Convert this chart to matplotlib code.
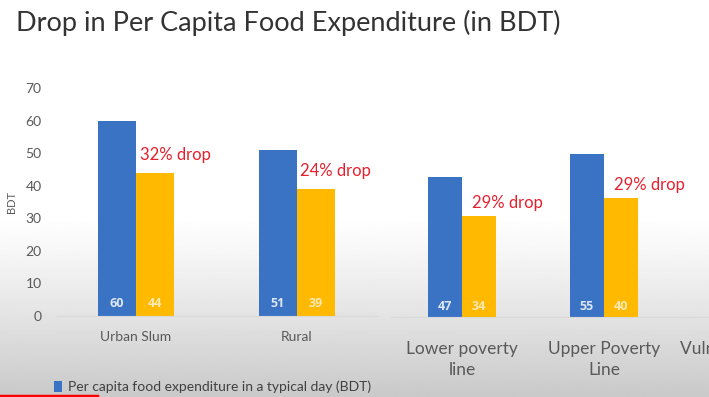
import matplotlib
matplotlib.use("Agg")
import matplotlib.pyplot as plt
import numpy as np
from matplotlib.lines import Line2D

# data
left_cats = ["Urban Slum", "Rural"]
left_before = [60, 51]
left_after = [44, 39]
left_drop = ["32% drop", "24% drop"]

right_cats = ["Lower poverty\nline", "Upper Poverty\nLine", "Vulnerable group"]
right_before = [47, 55]
right_after = [34, 40]
right_drop = ["29% drop", "29% drop"]

yticks = [0, 10, 20, 30, 40, 50, 60, 70]
legend_label = "Per capita food expenditure in a typical day (BDT)"
title = "Drop in Per Capita Food Expenditure (in BDT)"

BLUE = "#3a72c4"
GOLD = "#ffb900"
RED = "#e8202e"
GREY = "#595959"

plt.rcParams['font.family'] = ['Lato', 'DejaVu Sans']

W, H = 709, 397
fig = plt.figure(figsize=(W / 100, H / 100), dpi=100)

def px(x0, y_base, w, h):
    # pixel box (left, baseline y from top, width, height) -> figure fraction
    return [x0 / W, (H - y_base) / H, w / W, h / H]

# background: white top fading into grey at the bottom
bg = fig.add_axes([0, 0, 1, 1], zorder=-10)
rows = np.linspace(0, 1, 200)
shade = np.where(rows < 0.55, 1.0, 1.0 - 0.21 * ((rows - 0.55) / 0.45) ** 1.1)
bg.imshow(np.tile(shade[:, None], (1, 2)), cmap="gray", vmin=0, vmax=1,
          aspect="auto", extent=[0, 1, 0, 1], origin="upper")
bg.set_xlim(0, 1)
bg.set_ylim(0, 1)
bg.axis("off")

fig.text(16 / W, 1 - 23 / H, title, fontsize=19.5, color="#333333",
         va="center", ha="left")

num_font = ['Open Sans', 'DejaVu Sans']

# left chart
ax1 = fig.add_axes(px(57, 316, 321, 228))
ax1.patch.set_alpha(0)
x = np.arange(len(left_cats))
bw = 0.236
b1 = ax1.bar(x - bw / 2, left_before, bw, color=BLUE, label=legend_label)
b2 = ax1.bar(x + bw / 2, left_after, bw, color=GOLD)
ax1.set_xlim(-0.491, 1.503)
ax1.set_ylim(0, 70)
ax1.set_yticks(yticks)
ax1.set_xticks(x, left_cats)
ax1.tick_params(axis="both", length=0, labelsize=10, labelcolor=GREY)
ax1.tick_params(axis="x", pad=11)
ax1.tick_params(axis="y", pad=11)
for s in ["top", "right", "left"]:
    ax1.spines[s].set_visible(False)
ax1.spines["bottom"].set_color("#d9d9d9")
ax1.set_ylabel("BDT", fontsize=8, color=GREY, labelpad=6)
for i in range(len(left_cats)):
    ax1.text(x[i] - bw / 2, 3.8, str(left_before[i]), ha="center", va="center",
             fontsize=9, fontweight="bold", color="#dde6f5", family=num_font)
    ax1.text(x[i] + bw / 2, 3.8, str(left_after[i]), ha="center", va="center",
             fontsize=9, fontweight="bold", color="#fbe9b4", family=num_font)
    ax1.annotate(left_drop[i], (x[i], left_after[i]), xytext=(2.5, 13),
                 textcoords="offset points", ha="left", va="center",
                 fontsize=12, color=RED)

# right chart (own scale, no y axis)
ax2 = fig.add_axes(px(391, 317, 426, 208))
ax2.patch.set_alpha(0)
xr = np.arange(len(right_cats))
bw2 = 0.24
ax2.bar(xr[:2] - bw2 / 2, right_before, bw2, color=BLUE)
ax2.bar(xr[:2] + bw2 / 2, right_after, bw2, color=GOLD)
ax2.set_xlim(-0.5, 2.5)
ax2.set_ylim(0, 70)
ax2.set_yticks([])
ax2.set_xticks(xr, right_cats)
ax2.tick_params(axis="x", length=0, labelsize=12.5, labelcolor=GREY, pad=17)
for lab in ax2.get_xticklabels():
    lab.set_linespacing(1.45)
for s in ["top", "right", "left"]:
    ax2.spines[s].set_visible(False)
ax2.spines["bottom"].set_color("#d9d9d9")
for i in range(len(right_before)):
    ax2.text(xr[i] - bw2 / 2, 3.6, str(right_before[i]), ha="center", va="center",
             fontsize=9, fontweight="bold", color="#dde6f5", family=num_font)
    ax2.text(xr[i] + bw2 / 2, 3.6, str(right_after[i]), ha="center", va="center",
             fontsize=9, fontweight="bold", color="#fbe9b4", family=num_font)
    ax2.annotate(right_drop[i], (xr[i], right_after[i]), xytext=(7, 9.5),
                 textcoords="offset points", ha="left", va="center",
                 fontsize=12, color=RED)

fig.legend(handles=[b1], loc="center left", bbox_to_anchor=(54 / W, 1 - 387 / H),
           frameon=False, fontsize=10, handlelength=0.55, handleheight=0.9,
           handletextpad=0.45, labelcolor="#404040", borderaxespad=0, borderpad=0)

# red progress bar strip at the very bottom
fig.add_artist(Line2D([0, 97 / W], [1 / H, 1 / H], color="#ff0000", lw=2.5))

fig.savefig("out.png", dpi=100)
